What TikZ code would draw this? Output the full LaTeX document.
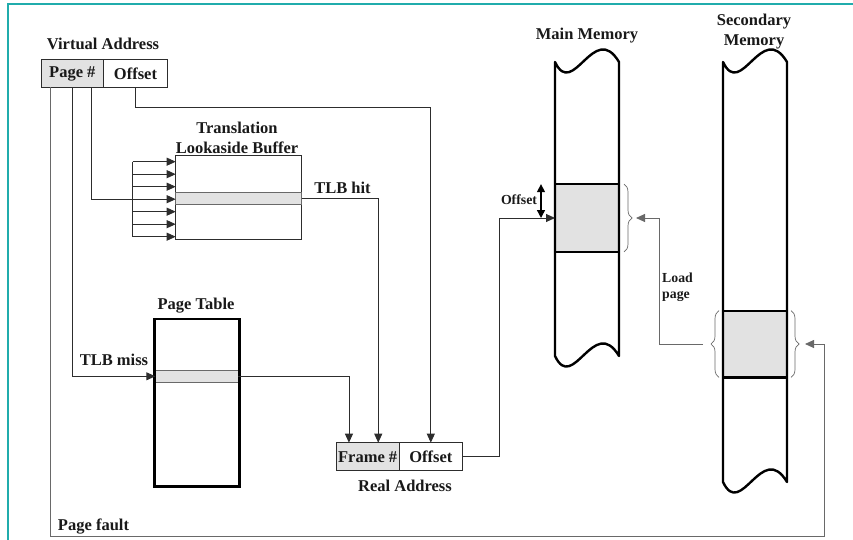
\documentclass[tikz,border=0pt]{standalone}
\usepackage{fontspec}
\setmainfont{Liberation Serif}
\usetikzlibrary{arrows.meta,decorations.pathreplacing,calc}
\definecolor{teal1}{RGB}{32,172,172}
\definecolor{cellgrey}{RGB}{226,226,226}
\definecolor{linec}{RGB}{45,45,45}
\definecolor{gline}{RGB}{105,105,105}
\definecolor{txt}{RGB}{25,25,25}
\tikzset{
 lbl/.style={font=\bfseries\fontsize{16.5}{20}\selectfont, text=txt, inner sep=0pt},
 slbl/.style={font=\bfseries\fontsize{13.8}{16.5}\selectfont, text=txt, inner sep=0pt},
 cell/.style={draw=linec, line width=0.9pt, minimum height=27.5pt, inner sep=0pt, outer sep=0pt, font=\bfseries\fontsize{16.5}{20}\selectfont, text=txt},
 box/.style={draw=linec, line width=0.9pt, inner sep=0pt, outer sep=0pt},
 tbox/.style={draw=black, line width=2.4pt, inner sep=0pt, outer sep=0pt},
 rowbox/.style={draw=gline, fill=cellgrey, line width=0.9pt, inner sep=0pt, outer sep=0pt},
 conn/.style={draw=linec, line width=0.9pt},
 arr/.style={conn, -{Triangle[length=9pt,width=8pt]}},
 dbl/.style={draw=black, line width=1.4pt, {Triangle[length=8pt,width=8pt]}-{Triangle[length=8pt,width=8pt]}},
 mem/.style={draw=black, line width=2.4pt, line join=round},
 memblock/.style={draw=black, fill=cellgrey, line width=2.4pt, inner sep=0pt, outer sep=0pt, minimum width=64pt},
 brc/.style={draw=gline, line width=0.7pt, decorate, decoration={brace, amplitude=8pt}},
}
\begin{document}
\begin{tikzpicture}[x=1pt,y=-1pt]
\useasboundingbox (0,0) rectangle (853,540);
\draw[teal1, line width=2pt] (8,545) -- (8,4.5) -- (860,4.5);

% labels
\node[lbl, anchor=base] (valbl) at (103,49.3) {Virtual Address};
\node[lbl, align=center] (tlblbl) at (237,138) {Translation\\Lookaside Buffer};
\node[lbl, anchor=base] (ptlbl) at (196,309.3) {Page Table};
\node[lbl, anchor=base] (ralbl) at (405,491.7) {Real Address};
\node[lbl, anchor=base] (mmlbl) at (587,40) {Main Memory};
\node[lbl, align=center] (smlbl) at (754,32) {Secondary\\Memory};
\node[lbl, anchor=base] (hitlbl) at (342.5,193.3) {TLB hit};
\node[lbl, anchor=base] (misslbl) at (114,365) {TLB miss};
\node[lbl, anchor=base] (pflbl) at (93.5,530) {Page fault};
\node[slbl, anchor=base] (offlbl) at (519,204.3) {Offset};
\node[slbl, align=left, anchor=west] (loadlbl) at (662,287) {Load\\page};

% virtual address
\node[cell, fill=cellgrey, minimum width=62.7pt] (pg) at (72.35,73.7) {Page \#};
\node[cell, minimum width=63.6pt] (vaoff) at (135.5,73.7) {Offset};

% TLB
\node[box, minimum width=126pt, minimum height=83.6pt] (tlb) at (238.7,197.5) {};
\node[rowbox, minimum width=126pt, minimum height=11.6pt] (tlbrow) at (238.7,198.5) {};

% page table
\node[rowbox, minimum width=83pt, minimum height=12.7pt] (ptrow) at (196.8,376.3) {};
\node[tbox, minimum width=85pt, minimum height=167.7pt] (pt) at (196.8,402.8) {};

% real address
\node[cell, fill=cellgrey, minimum width=63.3pt, minimum height=28pt] (frame) at (367.65,456.7) {Frame \#};
\node[cell, minimum width=63pt, minimum height=28pt] (raoff) at (430.8,456.7) {Offset};

% main memory
\node[memblock, minimum height=67.7pt] (mmblock) at (587,218) {};
\draw[mem] (555,62) .. controls (573,100) and (594,20) .. (619,62) -- (619,356)
  .. controls (594,314) and (573,394) .. (555,356) -- cycle;
% secondary memory
\node[memblock, minimum height=66.6pt] (smblock) at (755,344) {};
\draw[mem] (723,62) .. controls (741,100) and (762,20) .. (787,62) -- (787,482)
  .. controls (762,440) and (741,520) .. (723,482) -- cycle;

% braces
\draw[brc] ([xshift=5pt]mmblock.north east) -- ([xshift=5pt]mmblock.south east);
\draw[brc] ([xshift=4pt]smblock.north east) -- ([xshift=4pt]smblock.south east);
\draw[brc] ([xshift=-4pt]smblock.south west) -- ([xshift=-4pt]smblock.north west);

\coordinate (mmtip) at ([xshift=17pt]mmblock.east);
\coordinate (sltip) at ([xshift=-20pt]smblock.west);
\coordinate (srtip) at ([xshift=18pt]smblock.east);
\coordinate (pfc) at (824.7,536.7);
\coordinate (obend) at (430.8,107.3);

% connectors
\draw[arr] (vaoff.south) |- (obend) -- (raoff.north);
\draw[conn] ([xshift=19.3pt]pg.south) |- ($(tlb.north west)+(-43,43.5)$);
\draw[conn] ($(tlb.north west)+(-43,6)$) -- ($(tlb.north west)+(-43,81)$);
\foreach \k in {0,...,6}
  \draw[arr] ($(tlb.north west)+(-43,6+12.5*\k)$) -- ($(tlb.north west)+(0,6+12.5*\k)$);
\draw[arr] (tlbrow.east) -| ([xshift=10.6pt]frame.north);
\draw[arr] ([xshift=0.3pt]pg.south) |- (ptrow.west);
\draw[arr] (ptrow.east) -| ([xshift=-18.7pt]frame.north);
\draw[arr] (raoff.east) -- ++(37,0) |- (mmblock.west);
\draw[dbl] ([xshift=-14pt]mmblock.north west) -- ([xshift=-14pt]mmblock.west);
\draw[arr, draw=gline] (sltip) -| ($(mmtip)+(23,0)$) -- (mmtip);
\draw[arr, draw=gline] ([xshift=-21.65pt]pg.south) |- (pfc) |- (srtip);
\end{tikzpicture}
\end{document}
